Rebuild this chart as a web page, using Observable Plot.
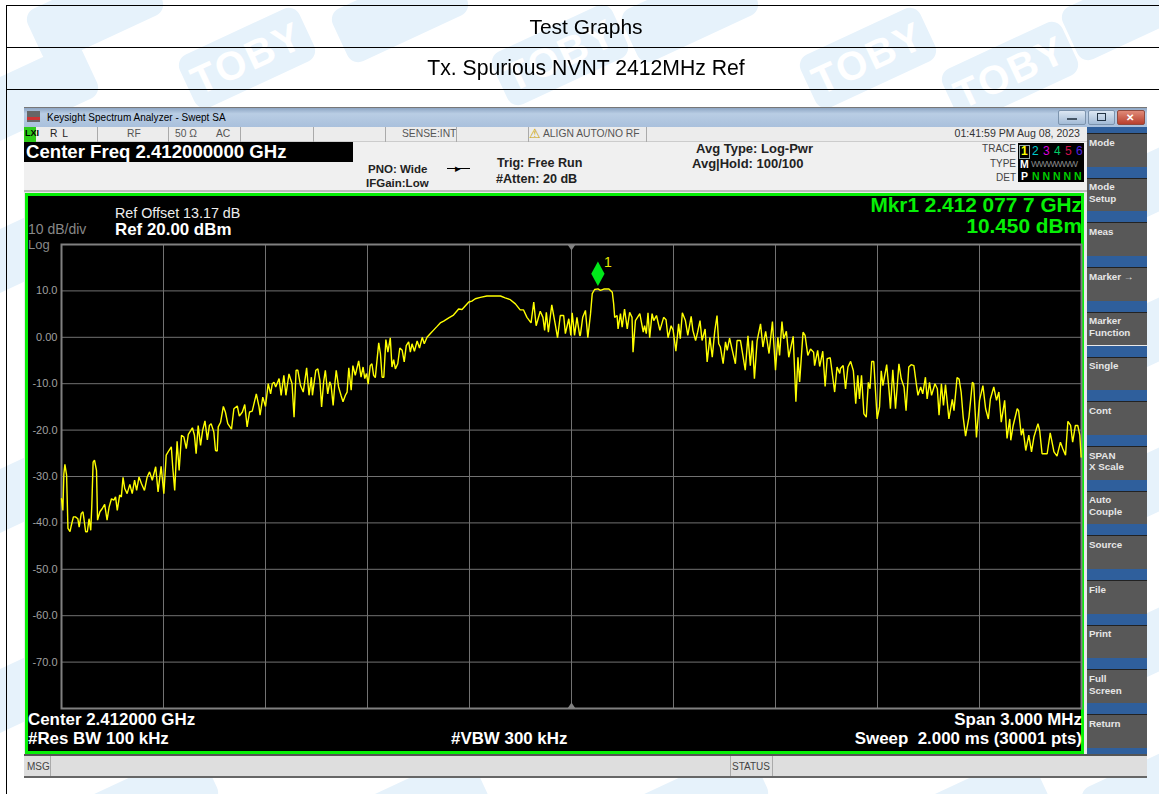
<!DOCTYPE html>
<html><head><meta charset="utf-8">
<script src="https://cdn.jsdelivr.net/npm/d3@7"></script>
<script src="https://cdn.jsdelivr.net/npm/@observablehq/plot@0.6"></script>
<style>
html,body{margin:0;padding:0;background:#fff;overflow:hidden}
#page{position:relative;width:1159px;height:794px;overflow:hidden;font-family:"Liberation Sans",Arial,sans-serif;color:#000;filter:blur(0.3px)}
#page div{position:absolute;white-space:nowrap;box-sizing:border-box}
.tile{width:132px;height:58px;border-radius:12px;background:#e6f2fb;color:#fff;font:bold 40px/58px "Liberation Sans";text-align:center;letter-spacing:2px;transform:rotate(-25deg)}
#plot svg{display:block}
</style></head><body><div id="page"></div>
<script>
const traceOffsetKHz=[-1500,-1496,-1493,-1490,-1485,-1481,-1475,-1471,-1465,-1459,-1452,-1448,-1442,-1437,-1434,-1429,-1424,-1419,-1414,-1411,-1407,-1403,-1397,-1394,-1387,-1380,-1373,-1366,-1360,-1353,-1346,-1341,-1336,-1329,-1324,-1319,-1314,-1307,-1299,-1292,-1285,-1279,-1272,-1265,-1256,-1248,-1241,-1233,-1223,-1216,-1207,-1199,-1192,-1184,-1177,-1173,-1167,-1160,-1154,-1147,-1140,-1133,-1127,-1120,-1115,-1109,-1104,-1098,-1091,-1085,-1078,-1071,-1065,-1060,-1052,-1047,-1042,-1039,-1032,-1024,-1018,-1011,-1000,-993,-983,-977,-968,-961,-954,-947,-939,-927,-919,-916,-908,-900,-892,-885,-880,-875,-870,-860,-854,-846,-840,-831,-822,-816,-810,-805,-797,-789,-779,-772,-765,-762,-752,-746,-740,
-735,-729,-724,-717,-711,-707,-701,-696,-692,-685,-678,-672,-665,-660,-655,-648,-643,-636,-626,-619,-613,-608,-603,-598,-592,-587,-582,-577,-567,-562,-557,-552,-546,-540,-533,-528,-523,-518,-511,-505,-498,-492,-486,-479,-474,-469,-462,-454,-447,-439,-433,-425,-415,-405,-396,-386,-376,-361,-347,-332,-322,-312,-302,-293,-283,-268,-249,-229,-209,-195,-180,-165,-151,-141,-131,-119,-111,-104,-92,-84,-79,-74,-68,-58,-48,-41,-33,-23,-18,-8,-2,2,9,16,24,
26,33,41,48,56,61,68,78,85,95,110,120,124,127,134,137,144,149,156,164,171,178,181,188,201,211,215,220,225,230,237,242,250,260,271,278,284,293,299,307,315,320,326,335,342,352,357,365,371,378,384,393,399,407,414,421,428,433,438,446,453,458,465,472,482,487,497,504,511,519,526,532,538,546,556,563,571,581,591,600,607,612,619,624,632,639,652,660,666,671,681,687,695,703,712,715,724,730,739,746,752,761,774,781,789,
791,799,806,813,821,829,836,842,847,853,860,867,873,878,883,889,899,906,911,916,927,934,938,945,953,963,970,978,984,992,999,1007,1014,1019,1027,1033,1041,1046,1053,1059,1069,1076,1081,1088,1094,1100,1110,1120,1125,1134,1140,1146,1152,1159,1169,1179,1183,1191,1200,1210,1218,1226,1232,1242,1250,1257,1264,1274,1281,1289,1292,1299,1311,1315,1323,1328,1336,1345,1353,1360,1372,1377,1384,1399,1408,1419,1428,1438,1445,1453,1460,1468,1474,1482,1489,1495,1499];
const traceDbm=[-34.8,-37.3,-29.4,-27.4,-29.7,-41.2,-41.9,-40.5,-38.7,-38.7,-39.1,-40.9,-38.0,-37.6,-39.1,-41.9,-41.9,-39.1,-41.6,-36.6,-26.9,-26.5,-28.7,-39.4,-37.6,-36.9,-36.0,-39.4,-36.6,-34.8,-35.1,-34.4,-37.3,-34.0,-34.4,-30.2,-32.6,-33.7,-31.7,-33.7,-30.8,-33.0,-30.1,-31.5,-33.0,-30.1,-29.0,-30.8,-27.9,-33.3,-27.8,-33.7,-25.4,-24.4,-23.6,-27.9,-33.0,-22.4,-28.7,-21.1,-21.5,-24.0,-20.9,-20.1,-19.5,-21.1,-25.1,-19.0,-23.3,-20.1,-18.0,-22.1,-19.0,-18.6,-20.4,-24.4,-24.5,-19.3,-18.3,-14.9,-16.1,-18.6,-19.8,-15.4,-14.8,-17.0,-16.1,-14.5,-19.3,-16.1,-15.9,-12.2,-15.0,-16.8,-12.9,-14.9,-10.0,-12.2,-10.0,-9.7,-10.7,-8.9,-12.5,-8.2,-12.5,-7.9,-10.0,-17.2,-7.1,-7.1,-10.4,-11.8,-6.6,-12.5,-8.6,-12.5,-7.1,-6.8,-9.3,
-15.0,-9.6,-7.1,-12.2,-9.6,-10.4,-14.7,-10.0,-7.1,-10.7,-12.5,-13.9,-12.5,-11.8,-6.6,-11.4,-6.1,-8.2,-5.1,-8.6,-6.4,-8.9,-7.8,-10.1,-6.1,-5.7,-8.2,-8.7,-1.2,-3.5,-8.6,-8.6,-0.5,-3.2,-0.1,-6.4,-4.8,-6.8,-5.7,-2.3,-2.8,-5.3,-1.8,-1.0,-3.2,-1.4,-3.0,-0.8,-2.3,0.0,-1.4,0.0,0.8,1.6,2.3,3.1,3.5,4.2,4.8,6.1,6.0,6.8,7.6,7.8,8.3,8.6,8.9,8.9,8.9,8.5,8.1,7.2,5.9,5.9,4.3,3.1,7.6,2.5,5.6,4.3,1.5,5.4,1.1,7.0,2.9,-0.1,4.7,4.7,0.8,4.0,0.4,5.3,0.4,4.3,0.4,
0.4,4.3,5.8,-0.1,5.1,9.4,10.3,10.45,10.1,10.4,10.4,9.7,7.2,4.3,4.7,1.8,5.1,2.2,6.1,1.8,5.4,4.3,-3.2,3.6,5.1,1.1,2.5,0.8,5.3,-0.1,5.1,3.6,4.7,1.5,4.3,3.8,-0.1,2.5,1.5,-3.0,2.9,-0.3,5.3,3.6,0.4,4.5,1.5,-0.7,1.1,3.6,-0.7,1.8,-5.3,0.0,-4.3,1.1,4.7,-1.4,-2.1,-5.7,-1.0,-2.8,-0.2,-2.5,-5.7,-0.7,-0.7,-3.9,-7.1,0.3,-6.1,-0.7,-8.9,-0.7,2.9,-2.1,1.3,-3.5,3.4,-7.1,0.0,-3.9,3.4,-0.3,1.3,-4.3,0.2,-13.9,-4.3,-9.6,1.1,0.4,-3.9,-2.5,-3.2,-6.1,-2.8,-6.3,-3.0,-10.6,-4.6,-4.4,-11.8,-6.4,-7.8,
-6.7,-6.1,-11.1,-6.4,-5.2,-7.2,-14.3,-8.2,-13.3,-8.2,-16.5,-17.2,-9.7,-11.1,-5.2,-5.2,-17.6,-15.0,-7.2,-10.4,-5.9,-11.5,-15.4,-7.0,-15.4,-5.7,-9.0,-10.7,-15.8,-6.4,-5.9,-6.1,-10.0,-12.5,-10.7,-12.2,-8.6,-13.3,-9.7,-12.5,-10.0,-11.1,-16.8,-10.0,-14.7,-10.2,-17.6,-13.4,-15.8,-8.7,-9.0,-11.8,-17.2,-21.3,-17.2,-9.7,-10.0,-21.6,-13.6,-10.4,-15.4,-17.6,-13.3,-10.7,-13.6,-11.8,-18.3,-13.6,-21.8,-17.6,-22.2,-19.0,-15.4,-15.8,-21.1,-19.7,-24.4,-21.1,-24.7,-21.5,-18.6,-20.1,-25.1,-25.1,-20.6,-24.7,-25.6,-22.6,-24.0,-25.4,-18.1,-19.0,-22.6,-19.0,-19.0,-21.1,-25.8];
const xGridKHz=[-1200,-900,-600,-300,0,300,600,900,1200];
const yGridDbm=[10,0,-10,-20,-30,-40,-50,-60,-70];
const yTickLabels=["10.0","0.00","-10.0","-20.0","-30.0","-40.0","-50.0","-60.0","-70.0"];
const markerKHz=[77.7], markerDbm=[10.45];
const softkeys=[["Mode"],["Mode","Setup"],["Meas"],["Marker →"],["Marker","Function"],["Single"],["Cont"],["SPAN","X Scale"],["Auto","Couple"],["Source"],["File"],["Print"],["Full","Screen"],["Return"]];
const tilesWithText=[[247,58],[560,55],[868,58],[1010,72]];
const tilesPlain=[[95,12],[400,12],[690,12],[1130,10],[30,95],[1158,180],[1158,330],[1158,480],[1158,640],[150,800],[420,805],[700,800],[980,805],[1150,790],[2,260],[2,500],[2,700]];

const page=document.getElementById("page");
function box(l,t,w,h,bg,extra){const d=document.createElement("div");Object.assign(d.style,{left:l+"px",top:t+"px",width:w+"px",height:h+"px",background:bg},extra||{});page.appendChild(d);return d;}
function txt(s,l,cy,size,color,opt={}){const d=document.createElement("div");d.textContent=s;
 Object.assign(d.style,{top:(cy-size*0.55)+"px",fontSize:size+"px",lineHeight:(size*1.1)+"px",color});
 if(opt.right!=null)d.style.right=(1159-opt.right)+"px";else d.style.left=l+"px";
 if(opt.bold)d.style.fontWeight="bold";if(opt.ls)d.style.letterSpacing=opt.ls+"px";
 if(opt.center){d.style.transform="translateX(-50%)";}
 page.appendChild(d);return d;}
// watermark
for(const [x,y] of tilesWithText){const d=document.createElement("div");d.className="tile";d.textContent="TOBY";d.style.left=(x-66)+"px";d.style.top=(y-29)+"px";page.appendChild(d);}
for(const [x,y] of tilesPlain){const d=document.createElement("div");d.className="tile";d.style.left=(x-66)+"px";d.style.top=(y-29)+"px";page.appendChild(d);}
// table rules
box(6,5,1153,1,"#000");box(6,47,1153,1,"#000");box(6,89,1153,1,"#000");box(6,5,1,789,"#000");
txt("Test Graphs",586,27,21,"#000",{center:true});
txt("Tx. Spurious NVNT 2412MHz Ref",586,68,21.2,"#000",{center:true});
// window
box(24,107,1123,671,"#e9e9e9");
box(24,107,1123,20,"linear-gradient(#8ea6c4,#b9cde4 30%,#a9c0dc)",{borderTop:"1px solid #777"});
box(27,111,13,11,"#666");box(27,117,13,3,"#c33");
txt("Keysight Spectrum Analyzer - Swept SA",47,117,10,"#000",{ls:0.02});
box(1058,110,28,15,"linear-gradient(#dce7f3,#a3bbd6)",{border:"1px solid #7c93ad",borderRadius:"2px"});
box(1088,110,27,15,"linear-gradient(#dce7f3,#a3bbd6)",{border:"1px solid #7c93ad",borderRadius:"2px"});
box(1117,110,28,15,"linear-gradient(#e08a78,#b8402e)",{border:"1px solid #8f4a3f",borderRadius:"2px"});
box(1067,118,10,2,"#456");box(1097,113,9,8,"none",{border:"1px solid #234"});txt("✕",1126,117,10,"#fff",{bold:true});
// status row
box(24,127,1063,15,"#ececec",{borderBottom:"1px solid #ccc"});
box(24,127,12,15,"#2ecc1a");txt("LXI",25,134,9,"#000",{bold:true});
txt("R L",50,134,10.3,"#222",{ls:1});txt("RF",127,134,10.3,"#555");txt("50 Ω",175,134,10.3,"#555");txt("AC",216,134,10.3,"#555");
txt("SENSE:INT",402,134,10.3,"#555");txt("ALIGN AUTO/NO RF",543,134,10.3,"#555");txt("01:41:59 PM Aug 08, 2023",0,134,10.6,"#333",{right:1080});
for(const x of [97,168,240,313,385,456,528,646])box(x,127,1,15,"#aaa");
txt("⚠",529,134,13,"#c8a000");
// measurement bar
box(24,142,1063,50,"#f0f0f0",{borderBottom:"2px solid #bbb"});
box(24,142,329,20,"#000");
txt("Center Freq 2.412000000 GHz",26,152,18.6,"#fff",{bold:true});
txt("PNO: Wide",368,169,11.5,"#222",{bold:true});txt("IFGain:Low",366,183,11.5,"#222",{bold:true});
txt("Trig: Free Run",497,164,12.6,"#222",{bold:true});txt("#Atten: 20 dB",496,180,12.6,"#222",{bold:true});
box(447,168,23,1,"#000");txt("▸",455,168,11,"#000");
txt("Avg Type: Log-Pwr",696,149,13,"#222",{bold:true});txt("Avg|Hold: 100/100",692,164,13,"#222",{bold:true});
txt("TRACE",0,148,10,"#444",{right:1016});txt("TYPE",0,163,10,"#444",{right:1016});txt("DET",0,177,10,"#444",{right:1016});
box(1018,143,66,39,"#000");
box(1019,145,11,14,"#000",{border:"1px solid #9aa"});
[["1","#ff0"],["2","#0cc"],["3","#d0d"],["4","#0c6"],["5","#d0104a"],["6","#5020e0"]].forEach(([s,c],i)=>txt(s,1021+i*11,152,12,c,{bold:i==0}));
txt("M",1020,165,10.5,"#fff",{bold:true});txt("WWWWWW",1031,165,9,"#888",{ls:-0.8});
txt("P",1021,177,10.5,"#fff",{bold:true});
["N","N","N","N","N"].forEach((s,i)=>txt(s,1032+i*10.5,177,10.5,"#0c0",{bold:true}));
// softkeys
box(1087,127,60,6,"#2f5f9c");
softkeys.forEach((k,i)=>{const y=133+i*44.7;
 if(i>0)box(1087,y-11,60,11,"#2f5f9c");box(1087,y,60,33.7,"#585858",{borderTop:"1px solid #222"});
 k.forEach((t,j)=>txt(t,1089,y+10+j*11.5,9.8,"#e6e6e6",{bold:true}));});
box(1087,748,60,6,"#2f5f9c");
// bottom status
box(24,754,1123,24,"#dedede",{borderTop:"2px solid #555",borderBottom:"2px solid #666"});
box(50,756,1,20,"#aaa");box(730,756,1,20,"#aaa");box(772,756,1,20,"#aaa");
txt("MSG",27,766,10,"#444");txt("STATUS",732,766,10,"#444");
// display
box(25,193,1059,561,"#000",{border:"3px solid #06f006"});

const trace=traceOffsetKHz.map((k,i)=>({k,d:traceDbm[i]}));
const unit=s=>Math.sqrt(s/Math.PI);
const tallDiamond={draw(c,s){const r=unit(s),h=r*1.75,w=r*0.95;c.moveTo(0,-h);c.lineTo(w,0);c.lineTo(0,h);c.lineTo(-w,0);c.closePath();}};
const triDown={draw(c,s){const r=unit(s);c.moveTo(-r,0);c.lineTo(r,0);c.lineTo(0,r*1.5);c.closePath();}};
const triUp={draw(c,s){const r=unit(s);c.moveTo(-r,0);c.lineTo(r,0);c.lineTo(0,-r*1.5);c.closePath();}};
const chart=Plot.plot({
 width:1053,height:555,marginLeft:33,marginRight:0,marginTop:48,marginBottom:43,
 style:{background:"#000",fontFamily:"Liberation Sans",overflow:"visible"},
 x:{domain:[-1500,1500],axis:null},
 y:{domain:[-80,20],axis:null},
 marks:[
  Plot.ruleX(xGridKHz,{stroke:"#727272",strokeWidth:1}),
  Plot.ruleY(yGridDbm,{stroke:"#727272",strokeWidth:1}),
  Plot.frame({stroke:"#808080",strokeWidth:2}),
  Plot.text(yGridDbm,{x:()=>-1500,y:d=>d,text:(d,i)=>yTickLabels[i],textAnchor:"end",dx:-4,fill:"#a0a0a0",fontSize:11}),
  Plot.dot([0],{x:d=>d,y:()=>20,symbol:triDown,r:4,fill:"#808080",stroke:null}),
  Plot.dot([0],{x:d=>d,y:()=>-80,symbol:triUp,r:4,fill:"#808080",stroke:null}),
  Plot.line(trace,{x:"k",y:"d",stroke:"#ffff00",strokeWidth:1.4,strokeLinejoin:"miter",curve:"linear"}),
  Plot.dot(markerKHz,{x:d=>d,y:(d,i)=>markerDbm[i],symbol:tallDiamond,r:7,dy:-15,fill:"#00e81a",stroke:null}),
  Plot.text(markerKHz,{x:d=>d,y:(d,i)=>markerDbm[i],text:()=>"1",dx:10,dy:-26,fill:"#e8e800",fontSize:14})
 ]});
const holder=document.createElement("div");holder.id="plot";holder.style.left="28px";holder.style.top="196px";holder.appendChild(chart);page.appendChild(holder);
// display annotations
txt("Ref Offset 13.17 dB",115,214,14.3,"#eee");
txt("Ref 20.00 dBm",115,230,16.9,"#fff",{bold:true});
txt("10 dB/div",28,230,14,"#888");txt("Log",28,245,13,"#888");
txt("Mkr1 2.412 077 7 GHz",0,205,20.8,"#06f006",{bold:true,right:1082});
txt("10.450 dBm",0,226,20.8,"#06f006",{bold:true,right:1082});
txt("Center 2.412000 GHz",28,720,16.9,"#fff",{bold:true});
txt("#Res BW 100 kHz",28,739,16.9,"#fff",{bold:true});
txt("#VBW 300 kHz",451,739,16.9,"#fff",{bold:true});
txt("Span 3.000 MHz",0,720,16.9,"#fff",{bold:true,right:1082});
txt("Sweep  2.000 ms (30001 pts)",0,739,16.9,"#fff",{bold:true,right:1082}).style.whiteSpace="pre";
</script></body></html>
